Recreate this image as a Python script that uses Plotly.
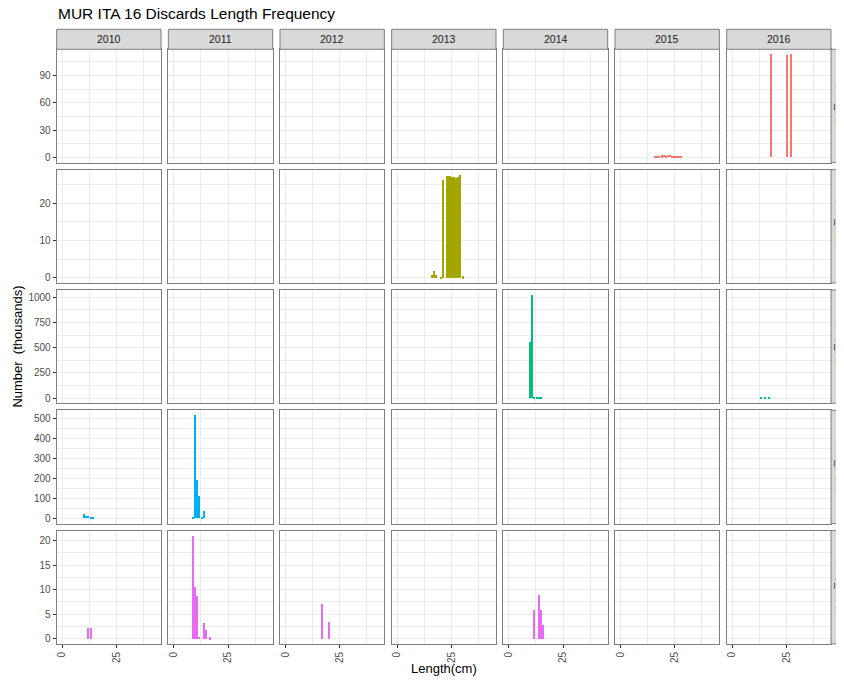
import plotly.graph_objects as go

# ---------------- data ----------------
years = [2010, 2011, 2012, 2013, 2014, 2015, 2016]
gears = ["GTR_DEF", "GTR_DEMF", "OTB_DEF", "OTB_DEMF", "OTB_MDD"]
gear_colors = ["#F8766D", "#A3A500", "#00BF7D", "#00B0F6", "#E76BF3"]
y_dticks = [30, 10, 250, 100, 5]
x_tick_vals = [0, 25]

gtr_def_2015_len = [16, 17, 18, 19, 20, 21, 22, 23, 24, 25, 26, 27, 28]
gtr_def_2015_val = [0.8, 1.5, 1.0, 2.0, 2.2, 1.2, 2.5, 2.3, 1.4, 1.0, 0.8, 1.2, 0.5]
gtr_def_2016_len = [18, 25, 27]
gtr_def_2016_val = [113.0, 112.5, 113.1]

gtr_demf_2013_len = [16, 17, 18, 20, 21, 23, 24, 25, 26, 27, 28, 29, 30]
gtr_demf_2013_val = [0.8, 2.0, 0.8, 0.3, 26.4, 27.3, 27.4, 27.0, 27.1, 26.8, 27.0, 27.6, 0.5]

otb_def_2014_len = [10, 11, 12, 13, 14, 15]
otb_def_2014_val = [557, 1020, 15, 6, 3, 2]
otb_def_2016_len = [13, 15, 17]
otb_def_2016_val = [12, 12, 12]

otb_demf_2010_len = [10, 11, 12, 13, 14]
otb_demf_2010_val = [20, 13, 10, 5, 3]
otb_demf_2011_len = [9, 10, 11, 12, 13, 14]
otb_demf_2011_val = [6, 513, 192, 112, 5, 36]

otb_mdd_2010_len = [12, 13]
otb_mdd_2010_val = [2.2, 2.2]
otb_mdd_2011_len = [9, 10, 11, 12, 14, 15, 17]
otb_mdd_2011_val = [21.0, 10.6, 8.9, 0.5, 3.3, 1.8, 0.4]
otb_mdd_2012_len = [17, 20]
otb_mdd_2012_val = [7.1, 3.5]
otb_mdd_2014_len = [12, 14, 15, 16]
otb_mdd_2014_val = [6.0, 9.0, 6.0, 2.9]

panels = [
    ("GTR_DEF", 2015, gtr_def_2015_len, gtr_def_2015_val),
    ("GTR_DEF", 2016, gtr_def_2016_len, gtr_def_2016_val),
    ("GTR_DEMF", 2013, gtr_demf_2013_len, gtr_demf_2013_val),
    ("OTB_DEF", 2014, otb_def_2014_len, otb_def_2014_val),
    ("OTB_DEF", 2016, otb_def_2016_len, otb_def_2016_val),
    ("OTB_DEMF", 2010, otb_demf_2010_len, otb_demf_2010_val),
    ("OTB_DEMF", 2011, otb_demf_2011_len, otb_demf_2011_val),
    ("OTB_MDD", 2010, otb_mdd_2010_len, otb_mdd_2010_val),
    ("OTB_MDD", 2011, otb_mdd_2011_len, otb_mdd_2011_val),
    ("OTB_MDD", 2012, otb_mdd_2012_len, otb_mdd_2012_val),
    ("OTB_MDD", 2014, otb_mdd_2014_len, otb_mdd_2014_val),
]

# ---------------- layout geometry (page pixels) ----------------
# the page body has an 8px margin, so the figure is offset by (8, 8)
OFF = 8
W, H = 836, 674
L0, PW, CS = 56.67, 104.33, 111.67
T0, PH, RS = 49.3, 113.3, 120.33
STRIP_H = 20
FONT = "Liberation Sans, Arial, sans-serif"
GRID = "#EBEBEB"
BORDER = "#7F7F7F"

def px_x(p):
    return (p - OFF) / W

def px_y(p):
    return 1 - (p - OFF) / H

fig = go.Figure()
layout = {}
shapes = []
annotations = []

row_max = []
for g in gears:
    vals = [v for (gg, yy, ll, vv) in panels if gg == g for v in vv]
    row_max.append(max(vals))

for r, g in enumerate(gears):
    M = row_max[r]
    yr = [-0.05 * M, 1.05 * M]
    for c, yv in enumerate(years):
        idx = r * 7 + c + 1
        sfx = "" if idx == 1 else str(idx)
        left = L0 + CS * c
        top = T0 + RS * r
        xs, ys = [], []
        for (gg, yy, ll, vv) in panels:
            if gg == g and yy == yv:
                xs, ys = ll, vv
        fig.add_trace(go.Bar(
            x=xs, y=ys, width=0.95,
            marker=dict(color=gear_colors[r], line=dict(width=0)),
            xaxis="x" + sfx, yaxis="y" + sfx, showlegend=False,
            hoverinfo="x+y",
        ))
        layout["xaxis" + sfx] = dict(
            domain=[px_x(left), px_x(left + PW)],
            anchor="y" + sfx,
            range=[-2.45, 45.55],
            tickvals=x_tick_vals, ticktext=[str(v) for v in x_tick_vals],
            showticklabels=(r == 4),
            ticks="outside" if r == 4 else "",
            ticklen=3, tickwidth=1, tickcolor="#333333",
            tickangle=-90,
            tickfont=dict(family=FONT, size=10, color="#4D4D4D"),
            showgrid=True, gridcolor=GRID, gridwidth=1,
            minor=dict(tickvals=[12.5, 37.5], showgrid=True, gridcolor=GRID, gridwidth=0.6, ticks=""),
            zeroline=False,
            showline=True, mirror=True, linecolor=BORDER, linewidth=1,
            fixedrange=True,
        )
        layout["yaxis" + sfx] = dict(
            domain=[px_y(top + PH), px_y(top)],
            anchor="x" + sfx,
            range=yr,
            tick0=0, dtick=y_dticks[r],
            showticklabels=(c == 0),
            ticks="outside" if c == 0 else "",
            ticklen=3, tickwidth=1, tickcolor="#333333",
            tickfont=dict(family=FONT, size=10, color="#4D4D4D"),
            showgrid=True, gridcolor=GRID, gridwidth=1,
            minor=dict(tick0=0, dtick=y_dticks[r] / 2, showgrid=True, gridcolor=GRID, gridwidth=0.6, ticks=""),
            zeroline=False,
            showline=True, mirror=True, linecolor=BORDER, linewidth=1,
            fixedrange=True,
        )

# top strips (years)
for c, yv in enumerate(years):
    left = L0 + CS * c
    shapes.append(dict(type="rect", xref="paper", yref="paper",
                       x0=px_x(left), x1=px_x(left + PW),
                       y0=px_y(T0), y1=px_y(T0 - STRIP_H),
                       fillcolor="#D9D9D9", line=dict(color=BORDER, width=1), layer="above"))
    annotations.append(dict(text=str(yv), xref="paper", yref="paper",
                            x=px_x(left + PW / 2), y=px_y(T0 - STRIP_H / 2),
                            showarrow=False, xanchor="center", yanchor="middle",
                            font=dict(family=FONT, size=10.5, color="#1A1A1A")))

# right strips (gears) - partly outside the page, as in the reference
SX0 = L0 + CS * 6 + PW
for r, g in enumerate(gears):
    top = T0 + RS * r
    shapes.append(dict(type="rect", xref="paper", yref="paper",
                       x0=px_x(SX0), x1=px_x(SX0 + 20),
                       y0=px_y(top + PH), y1=px_y(top),
                       fillcolor="#D9D9D9", line=dict(color=BORDER, width=1), layer="above"))
    annotations.append(dict(text=g, xref="paper", yref="paper",
                            x=px_x(SX0 + 9), y=px_y(top + PH / 2),
                            showarrow=False, xanchor="center", yanchor="middle",
                            textangle=90,
                            font=dict(family=FONT, size=10.5, color="#1A1A1A")))

# axis titles and main title
annotations.append(dict(text="Length(cm)", xref="paper", yref="paper",
                        x=px_x((L0 + SX0) / 2), y=px_y(668),
                        showarrow=False, xanchor="center", yanchor="middle",
                        font=dict(family=FONT, size=13, color="#000000")))
annotations.append(dict(text="Number\u00a0 (thousands)", xref="paper", yref="paper",
                        x=px_x(18), y=px_y((T0 + T0 + RS * 4 + PH) / 2),
                        showarrow=False, xanchor="center", yanchor="middle",
                        textangle=-90,
                        font=dict(family=FONT, size=13, color="#000000")))
annotations.append(dict(text="MUR ITA 16 Discards Length Frequency", xref="paper", yref="paper",
                        x=px_x(56), y=px_y(14),
                        showarrow=False, xanchor="left", yanchor="middle",
                        font=dict(family=FONT, size=15.5, color="#000000")))

fig.update_layout(
    width=W, height=H,
    margin=dict(l=0, r=0, t=0, b=0),
    paper_bgcolor="white", plot_bgcolor="white",
    bargap=0, showlegend=False,
    shapes=shapes, annotations=annotations,
    **layout,
)

fig.write_html("out.html")
